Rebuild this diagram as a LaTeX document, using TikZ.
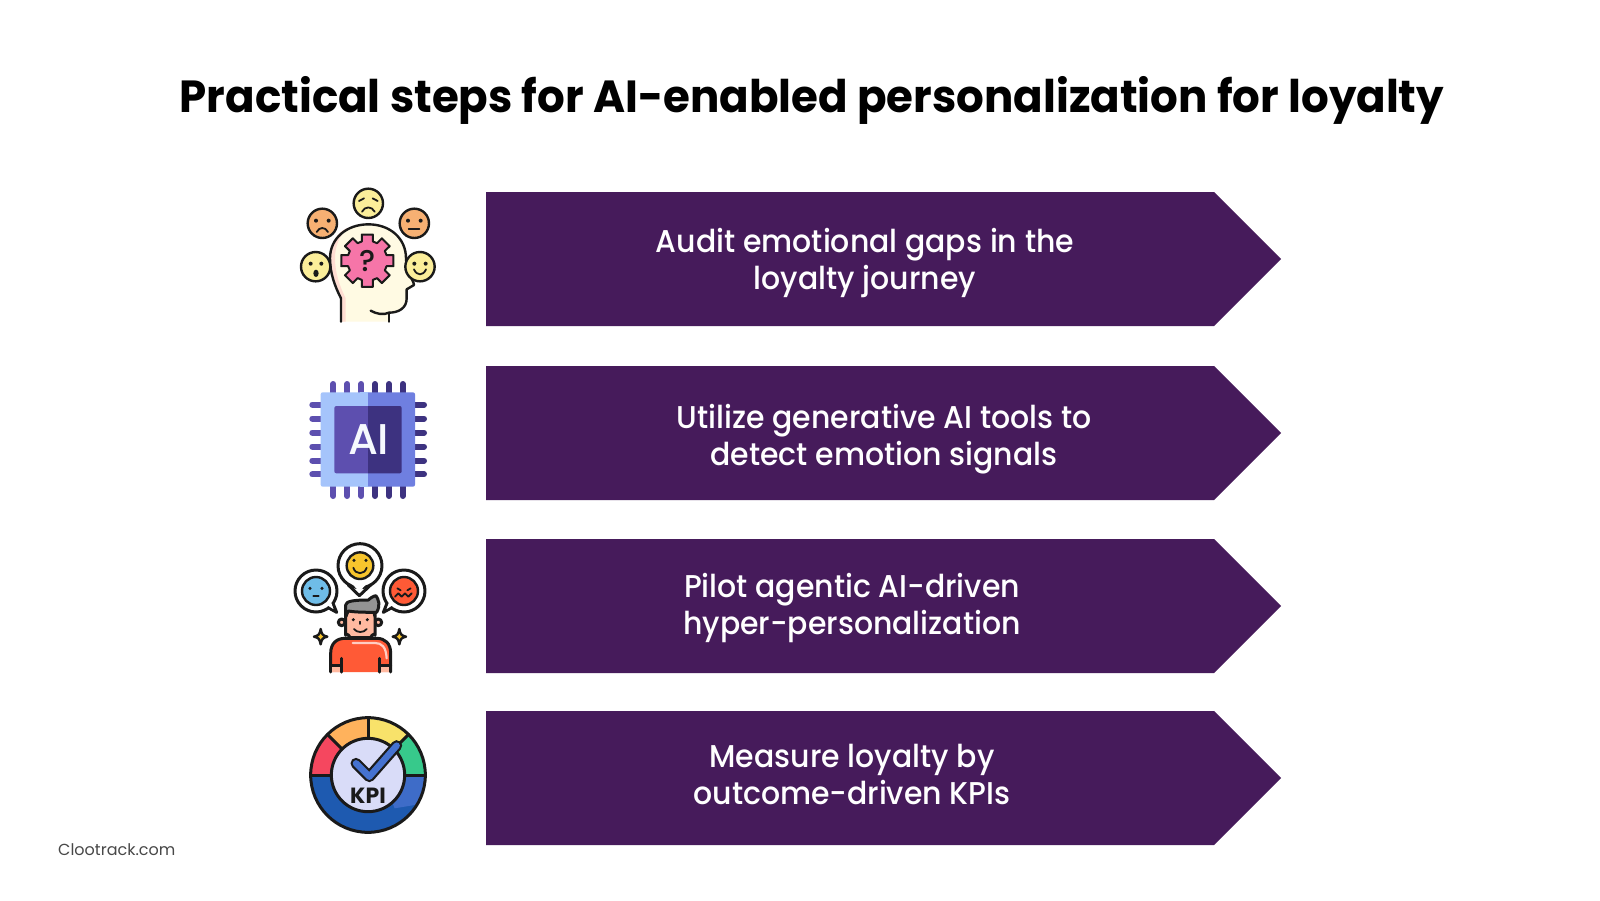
\documentclass[tikz,border=0pt]{standalone}
\usepackage{fontspec}
\setmainfont{Poppins}
\newfontfamily\titlefont[FakeStretch=0.968]{Poppins Bold}
\newfontfamily\bodyfont[FakeStretch=0.95]{Poppins Medium}
\newfontfamily\iconfont{Poppins Medium}
\definecolor{plum}{HTML}{461B5B}
\definecolor{ink}{HTML}{1A1A1A}
\definecolor{faceY}{HTML}{FBEE9A}
\definecolor{faceO}{HTML}{F6B073}
\definecolor{cream}{HTML}{FFFAE3}
\definecolor{blush}{HTML}{FFDDD2}
\definecolor{gearP}{HTML}{F675A8}
\definecolor{chipL}{HTML}{A5C4FB}
\definecolor{chipR}{HTML}{6F7FE0}
\definecolor{coreL}{HTML}{5D4FAF}
\definecolor{coreR}{HTML}{3D3280}
\definecolor{skin}{HTML}{FFB9A0}
\definecolor{shirt}{HTML}{FF5A36}
\definecolor{sunny}{HTML}{F7C52D}
\definecolor{sky}{HTML}{6FBDE8}
\definecolor{kBlue}{HTML}{1E5AB0}
\definecolor{kBlueL}{HTML}{3E6CC8}
\definecolor{kRed}{HTML}{F5475F}
\definecolor{kOrange}{HTML}{FFB25C}
\definecolor{kYellow}{HTML}{F8E26A}
\definecolor{kGreen}{HTML}{37C98B}
\definecolor{kInner}{HTML}{D9DCF8}
\definecolor{kCheck}{HTML}{4572D0}
\tikzset{
  stepshape/.style={fill=plum,draw=none},
  steptext/.style={text=white,font=\bodyfont\fontsize{31.5}{37}\selectfont,align=center,inner sep=0pt},
  line/.style={draw=ink,line width=2.4pt,line cap=round,line join=round},
  thick line/.style={draw=ink,line width=3pt,line cap=round,line join=round},
  eye/.style={fill=ink},
  pinL/.style={draw=coreL,line width=6pt,line cap=round},
  pinR/.style={draw=coreR,line width=6pt,line cap=round},
}
\begin{document}
\begin{tikzpicture}[x=1pt,y=-1pt]
\useasboundingbox (0,0) rectangle (1600,900);
\fill[white] (0,0) rectangle (1600,900);
\node[anchor=base,font=\titlefont\fontsize{45}{50}\selectfont,text=black,inner sep=0pt] (title) at (812,112) {Practical steps for AI-enabled personalization for loyalty};
% arrows
\path[stepshape] (486,192) -- (1214,192) -- (1281,259) -- (1214,326) -- (486,326) -- cycle;
\path[stepshape] (486,366) -- (1214,366) -- (1281,433) -- (1214,500) -- (486,500) -- cycle;
\path[stepshape] (486,539) -- (1214,539) -- (1281,606) -- (1214,673) -- (486,673) -- cycle;
\path[stepshape] (486,711) -- (1214,711) -- (1281,778) -- (1214,845) -- (486,845) -- cycle;
\node[steptext] (s1) at (865,263) {Audit emotional gaps in the\\loyalty journey};
\node[steptext] (s2) at (884,439) {Utilize generative AI tools to\\detect emotion signals};
\node[steptext] (s3) at (852,608) {Pilot agentic AI-driven\\hyper-personalization};
\node[steptext] (s4) at (852,774) {Measure loyalty by\\outcome-driven KPIs};
\node[anchor=base west,inner sep=0pt,text=ink!80,font=\fontsize{16}{18}\selectfont] (foot) at (58,855.5) {Clootrack.com};
% ---------- icon 1: head ----------
\begin{scope}[shift={(280,170)},scale=1/3]
  \fill[cream] (183,455) -- (183,385) .. controls (165,350) and (150,310) .. (150,265) .. controls (150,205) and (200,163) .. (265,163) .. controls (330,163) and (378,205) .. (378,265) .. controls (378,300) and (402,335) .. (402,345) -- (380,358) -- (380,385) .. controls (380,415) and (355,428) .. (327,428) -- (327,455) -- cycle;
  \fill[blush] (183,455) -- (183,385) .. controls (165,350) and (150,310) .. (150,265) .. controls (150,215) and (175,185) .. (205,172) .. controls (180,195) and (165,225) .. (165,265) .. controls (165,310) and (180,350) .. (197,385) -- (197,455) -- cycle;
  \draw[line] (183,455) -- (183,385) .. controls (165,350) and (150,310) .. (150,265) .. controls (150,205) and (200,163) .. (265,163) .. controls (330,163) and (378,205) .. (378,265) .. controls (378,300) and (402,335) .. (402,345) -- (380,358) -- (380,385) .. controls (380,415) and (355,428) .. (327,428) .. controls (310,436) and (290,432) .. (272,422);
  \draw[line] (327,428) -- (327,455);
  \begin{scope}[shift={(262,272)}]
    \fill[gearP] (-12:80) \foreach \a in {0,45,...,315} { -- (\a-12:80) -- (\a+12:80) -- (\a+16:60) -- (\a+29:60) } -- cycle;
    \draw[line,line width=2pt] (-12:80) \foreach \a in {0,45,...,315} { -- (\a-12:80) -- (\a+12:80) -- (\a+16:60) -- (\a+29:60) } -- cycle;
  \end{scope}
  \node[font=\iconfont\fontsize{30}{30}\selectfont,text=ink,inner sep=0pt] (q) at (262,272) {?};
  \foreach \x/\y/\c in {265/100/faceY,127/160/faceO,403/160/faceO,107/290/faceY,420/290/faceY}
    \draw[line,fill=\c] (\x,\y) circle[radius=44];
  % top face
  \draw[line,line width=1.8pt] (237,93) -- (252,85) (293,93) -- (278,85);
  \draw[line,line width=1.8pt] (246,125) .. controls (255,108) and (275,108) .. (284,125);
  % left-top face
  \fill[eye] (108,152) circle[radius=6] (146,152) circle[radius=6];
  \draw[line,line width=1.8pt] (110,186) .. controls (118,170) and (136,170) .. (144,186);
  % right-top face
  \fill[eye] (384,152) circle[radius=6] (422,152) circle[radius=6];
  \draw[line,line width=1.8pt] (386,178) -- (418,178);
  % left face
  \fill[eye] (92,281) circle[radius=6] (124,281) circle[radius=6];
  \fill[eye] (108,310) ellipse[x radius=8,y radius=11];
  % right face
  \fill[eye] (403,281) circle[radius=6] (437,281) circle[radius=6];
  \draw[line,line width=1.8pt] (402,298) .. controls (410,318) and (430,318) .. (438,298);
\end{scope}
% ---------- icon 2: chip ----------
\begin{scope}[shift={(280,360)},scale=1/3]
  \foreach \x in {160,202,244} { \draw[pinL] (\x,72) -- (\x,105); \draw[pinL] (\x,375) -- (\x,408); }
  \foreach \x in {285,327,368} { \draw[pinR] (\x,72) -- (\x,105); \draw[pinR] (\x,375) -- (\x,408); }
  \foreach \y in {134,176,218,260,302,343} { \draw[pinL] (97,\y) -- (130,\y); \draw[pinR] (400,\y) -- (432,\y); }
  \fill[chipL,rounded corners=2pt] (122,97) rectangle (270,380);
  \fill[chipR,rounded corners=2pt] (405,97) rectangle (260,380);
  \fill[chipL] (240,97) rectangle (264,380);
  \fill[coreL,rounded corners=2pt] (163,138) rectangle (270,340);
  \fill[coreR,rounded corners=2pt] (365,138) rectangle (260,340);
  \fill[coreL] (240,138) rectangle (264,340);
  \node[font=\iconfont\fontsize{43}{43}\selectfont,text=white!90!chipL,inner sep=0pt] (ai) at (266,238) {AI};
\end{scope}
% ---------- icon 3: person ----------
\begin{scope}[shift={(280,525)},scale=1/3]
  % bubbles
  \draw[thick line,fill=white] (205,180) -- (238,212) -- (272,180) -- cycle;
  \draw[thick line,fill=white] (240,122) circle[radius=66];
  \fill[white] (212,172) -- (238,200) -- (264,172) -- cycle;
  \draw[line,fill=sunny] (240,122) circle[radius=40];
  \draw[thick line,fill=white] (130,240) -- (170,262) -- (155,225) -- cycle;
  \draw[thick line,fill=white] (108,198) circle[radius=63];
  \fill[white] (128,232) -- (160,252) -- (150,222) -- cycle;
  \draw[line,fill=sky] (108,198) circle[radius=42];
  \draw[thick line,fill=white] (350,240) -- (310,262) -- (325,225) -- cycle;
  \draw[thick line,fill=white] (372,198) circle[radius=63];
  \fill[white] (352,232) -- (320,252) -- (330,222) -- cycle;
  \draw[line,fill=shirt] (372,198) circle[radius=42];
  % top face
  \fill[eye] (222,106) circle[radius=5] (258,106) circle[radius=5];
  \draw[line,line width=1.8pt] (220,128) .. controls (226,150) and (254,150) .. (260,128);
  % blue face
  \fill[eye] (90,190) circle[radius=5] (126,190) circle[radius=5];
  \draw[line,line width=1.8pt] (100,212) -- (116,212);
  % red face
  \draw[line,line width=1.8pt] (345,215) -- (355,205) -- (365,215) -- (375,205) -- (385,215) -- (395,205);
  \draw[line,line width=1.8pt] (352,190) -- (362,196) (392,190) -- (382,196);
  % sparkles
  \foreach \x in {122,358}
    \draw[line,fill=sunny] (\x,312) .. controls (\x+3,328) and (\x+6,332) .. (\x+20,335) .. controls (\x+6,338) and (\x+3,342) .. (\x,358) .. controls (\x-3,342) and (\x-6,338) .. (\x-20,335) .. controls (\x-6,332) and (\x-3,328) .. (\x,312) -- cycle;
  % body
  \draw[thick line,fill=shirt] (152,441) -- (152,385) .. controls (152,355) and (170,340) .. (195,340) -- (290,340) .. controls (315,340) and (332,355) .. (332,385) -- (332,441);
  \fill[skin] (157,441) rectangle (183,420);
  \fill[skin] (300,441) rectangle (327,420);
  \draw[thick line] (185,441) -- (185,400) (298,441) -- (298,400) (152,420) -- (183,420) (300,420) -- (332,420);
  \draw[draw=white!70!shirt,line width=2.2pt,line cap=round] (218,354) -- (285,354) .. controls (305,354) and (318,365) .. (320,400);
  % head
  \draw[thick line,fill=skin] (185,292) circle[radius=10];
  \draw[thick line,fill=skin] (295,292) circle[radius=10];
  \draw[thick line,fill=skin,rounded corners=12pt] (197,240) -- (285,240) -- (285,295) .. controls (285,320) and (265,338) .. (241,338) .. controls (217,338) and (197,320) .. (197,295) -- cycle;
  \draw[thick line,fill=gray!85] (197,275) -- (197,240) .. controls (197,228) and (225,225) .. (265,225) .. controls (270,220) and (280,213) .. (288,212) .. controls (296,225) and (302,240) .. (290,262) .. controls (270,262) and (225,262) .. (205,258) -- cycle;
  \fill[eye] (220,284) circle[radius=5] (262,284) circle[radius=5];
  \draw[line,line width=1.8pt] (222,312) .. controls (230,324) and (252,324) .. (260,312);
  \draw[line,line width=1.8pt] (240,290) -- (240,297);
\end{scope}
% ---------- icon 4: KPI gauge ----------
\begin{scope}[shift={(280,695)},scale=1/3]
  \begin{scope}[shift={(264,240)}]
    \begin{scope}
      \clip (0,0) circle[radius=172];
      \fill[kBlue] (-200,0) rectangle (200,200);
      \fill[kBlueL] (40,0) -- (200,0) -- (200,80) -- (80,100) -- cycle;
      \fill[kRed] (0,0) -- (180:260) -- (225:260) -- cycle;
      \fill[kOrange] (0,0) -- (225:260) -- (270:260) -- cycle;
      \fill[kYellow] (0,0) -- (270:260) -- (315:260) -- cycle;
      \fill[kGreen] (0,0) -- (315:260) -- (360:260) -- cycle;
    \end{scope}
    \foreach \a in {180,225,270,315,360} \draw[thick line] (\a:105) -- (\a:172);
    \draw[thick line] (0,0) circle[radius=172];
    \draw[thick line,fill=kInner] (0,0) circle[radius=110];
    \draw[draw=ink,line width=11pt,line cap=round,line join=round] (-36,-35) -- (4,5) -- (86,-88);
    \draw[draw=kCheck,line width=6.5pt,line cap=round,line join=round] (-36,-35) -- (4,5) -- (86,-88);
    \node[font=\fontsize{22}{22}\selectfont\bfseries,text=ink,inner sep=0pt] (kpi) at (0,62) {KPI};
  \end{scope}
\end{scope}
\end{tikzpicture}
\end{document}
